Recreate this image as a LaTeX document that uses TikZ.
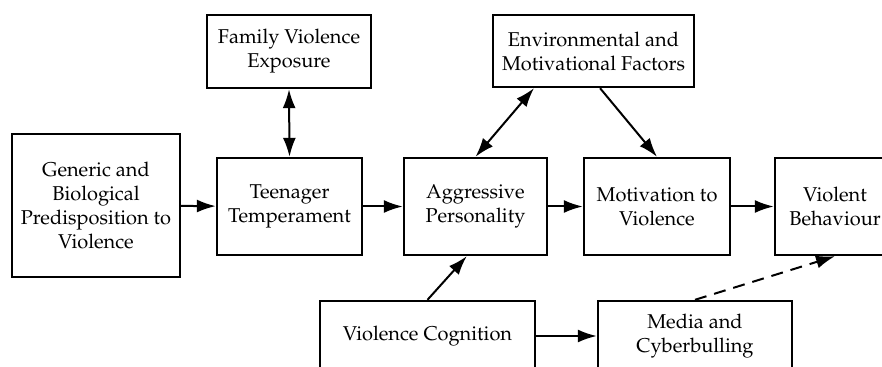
\documentclass[tikz,border=0pt]{standalone}
\usepackage[T1]{fontenc}
\usepackage{mathpazo}
\usetikzlibrary{arrows, arrows.meta}

\begin{document}
\begin{tikzpicture}[x=0.5pt, y=-0.5pt,
    box/.style={draw, line width=1.2pt, rectangle, align=center, inner sep=2pt, font=\fontsize{10}{12}\selectfont},
    link/.style={line width=1pt, -{Latex[length=9.5pt, width=6.5pt]}},
    twolink/.style={line width=1pt, {Latex[length=9.5pt, width=6.5pt]}-{Latex[length=9.5pt, width=6.5pt]}}]
      \useasboundingbox (0,0) rectangle (882,367);
      \clip (0,0) rectangle (882,367);

      % top row
      \node[box, minimum width=82pt, minimum height=36.5pt] (fam) at (289,51.5) {Family Violence\\Exposure};
      \node[box, minimum width=100.5pt, minimum height=36pt] (env) at (593.5,51) {Environmental and\\Motivational Factors};

      % middle row
      \node[box, minimum width=84pt, minimum height=71.5pt] (gen) at (96,205.5) {Generic and\\Biological\\Predisposition to\\Violence};
      \node[box, minimum width=72.5pt, minimum height=48.5pt] (temp) at (289.5,206.5) {Teenager\\Temperament};
      \node[box, minimum width=71.5pt, minimum height=48.5pt] (aggr) at (475.5,206.5) {Aggressive\\Personality};
      \node[box, minimum width=73pt, minimum height=48.5pt] (motiv) at (657,206.5) {Motivation to\\Violence};
      \node[box, minimum width=60pt, minimum height=48.5pt] (viol) at (835,206.5) {Violent\\Behaviour};

      % bottom row
      \node[box, minimum width=107.5pt, minimum height=35pt] (cog) at (427.5,336) {Violence Cognition};
      \node[box, minimum width=97pt, minimum height=35pt] (media) at (695,336) {Media and\\Cyberbulling};

      \draw[link] (gen) -- (temp);
      \draw[link] (temp) -- (aggr);
      \draw[link] (aggr) -- (motiv);
      \draw[link] (motiv) -- (viol);
      \draw[twolink] (temp.north) -- (fam.south);
      \draw[twolink] (aggr.north) -- (env.-148);
      \draw[link] (env.-80) -- (motiv.north);
      \draw[link] (cog.north) -- (aggr.-100);
      \draw[link] (cog) -- (media);
      \draw[link, dash pattern=on 6pt off 4pt] (media.north) -- (viol.south);
\end{tikzpicture}
\end{document}
